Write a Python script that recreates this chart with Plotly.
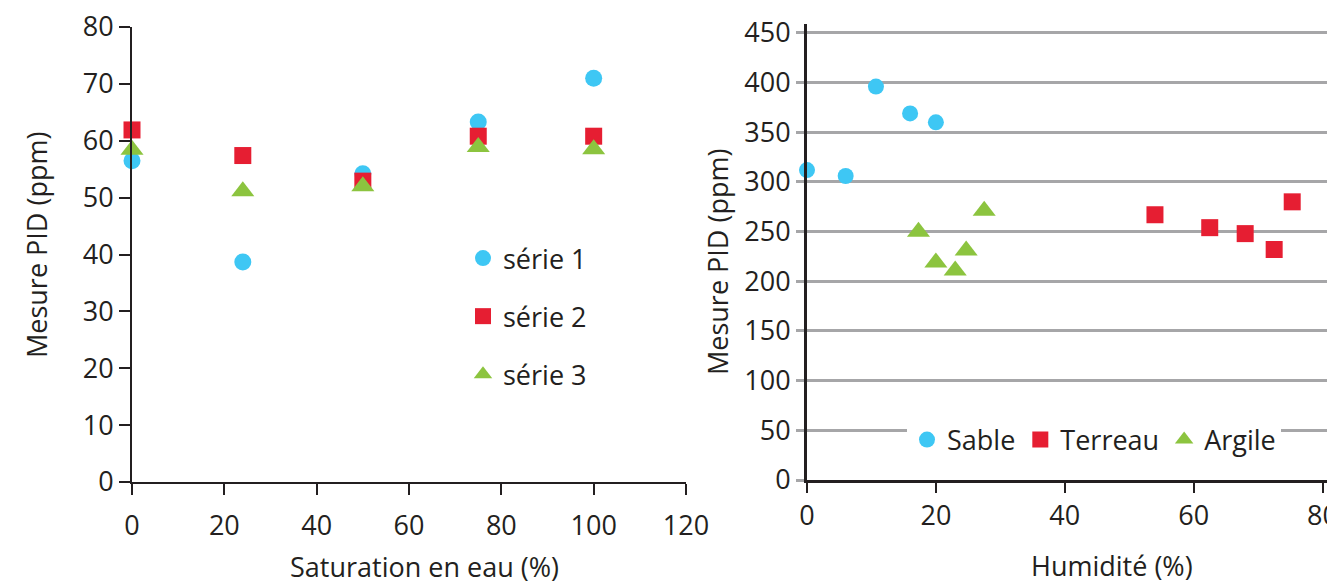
import plotly.graph_objects as go

# ---- left chart data ----
saturation = [0, 24, 50, 75, 100]
serie1 = [56.5, 38.7, 54.2, 63.3, 71.0]
serie2 = [61.9, 57.4, 52.9, 60.8, 60.8]
serie3 = [58.4, 51.1, 52.0, 58.9, 58.5]
left_xticks = [0, 20, 40, 60, 80, 100, 120]
left_yticks = [0, 10, 20, 30, 40, 50, 60, 70, 80]

# ---- right chart data ----
sable_x = [0, 6, 10.7, 16, 20]
sable_y = [312, 306, 396, 369, 360]
terreau_x = [54, 62.5, 68, 72.5, 75.3]
terreau_y = [267, 254, 248, 232, 280]
argile_x = [17.3, 20, 23, 24.7, 27.5]
argile_y = [250, 219, 211, 231, 271]
right_xticks = [0, 20, 40, 60, 80]
right_yticks = [0, 50, 100, 150, 200, 250, 300, 350, 400, 450]

BLUE = "#3ec7f4"
RED = "#e61e32"
GREEN = "#8cc43f"
TXT = "#231f20"
FONT = "Open Sans"
FS = 27
W, H = 1335, 583
OFF = 8  # page body margin


def fx(px):
    return (px - OFF) / W


def fy(py):
    return 1 - (py - OFF) / H


fig = go.Figure()

for name, ys, sym, col, sz in [("série 1", serie1, "circle", BLUE, 17),
                               ("série 2", serie2, "square", RED, 17),
                               ("série 3", serie3, "triangle-up", GREEN, 20)]:
    fig.add_trace(go.Scatter(x=saturation, y=ys, mode="markers", name=name,
                             marker=dict(symbol=sym, color=col, size=sz),
                             xaxis="x", yaxis="y", legend="legend",
                             legendgroup=name, cliponaxis=False))

for name, xs, ys, sym, col, sz in [("Sable", sable_x, sable_y, "circle", BLUE, 16),
                                   ("Terreau", terreau_x, terreau_y, "square", RED, 17),
                                   ("Argile", argile_x, argile_y, "triangle-up", GREEN, 20)]:
    fig.add_trace(go.Scatter(x=xs, y=ys, mode="markers", name=name,
                             marker=dict(symbol=sym, color=col, size=sz),
                             xaxis="x2", yaxis="y2", legend="legend2",
                             cliponaxis=False))

tickfont = dict(family=FONT, size=FS, color=TXT)
right_end = W + OFF  # paper right edge in window pixels
x2_max = (right_end - 807) / ((1322.5 - 807) / 80)

fig.update_layout(
    width=W, height=H,
    margin=dict(l=0, r=0, t=0, b=0, autoexpand=False),
    paper_bgcolor="white", plot_bgcolor="white",
    showlegend=True,
    font=dict(family=FONT, color=TXT),
    xaxis=dict(domain=[fx(132), fx(686)], range=[0, 120], tickvals=left_xticks,
               showgrid=False, zeroline=False, showline=True, linecolor=TXT, linewidth=2,
               ticks="outside", ticklen=11, tickwidth=2, tickcolor=TXT,
               tickfont=tickfont, ticklabelstandoff=8, anchor="y", automargin=False,
               ticklabeloverflow="allow"),
    yaxis=dict(domain=[fy(482), fy(27)], range=[0, 80], tickvals=left_yticks,
               showgrid=False, zeroline=False, showline=True, linecolor=TXT, linewidth=2,
               ticks="outside", ticklen=11, tickwidth=2, tickcolor=TXT,
               tickfont=tickfont, ticklabelstandoff=0, anchor="x", automargin=False,
               ticklabeloverflow="allow"),
    xaxis2=dict(domain=[fx(807), 1.0], range=[0, x2_max], tickvals=right_xticks,
                showgrid=False, zeroline=False, showline=True, linecolor=TXT, linewidth=3,
                ticks="outside", ticklen=10, tickwidth=2, tickcolor=TXT,
                tickfont=tickfont, ticklabelstandoff=0, anchor="y2", automargin=False,
                ticklabeloverflow="allow"),
    yaxis2=dict(domain=[fy(480), fy(24)], range=[0, 459], tickvals=right_yticks,
                showgrid=True, gridcolor="#a6a6a8", gridwidth=2.5,
                zeroline=False, showline=True, linecolor=TXT, linewidth=3,
                ticks="outside", ticklen=8, tickwidth=2.5, tickcolor="#a6a6a8",
                tickfont=tickfont, ticklabelstandoff=0, anchor="x2", automargin=False,
                ticklabeloverflow="allow"),
    legend=dict(x=fx(463), xanchor="left", y=fy(234), yanchor="top",
                orientation="v", tracegroupgap=20, bgcolor="rgba(0,0,0,0)",
                font=dict(family=FONT, size=FS, color=TXT)),
    legend2=dict(x=fx(1094), xanchor="center", y=fy(440), yanchor="middle",
                 orientation="h", bgcolor="white", itemwidth=30,
                 font=dict(family=FONT, size=FS, color=TXT)),
    annotations=[
        dict(text="Saturation en eau (%)", x=fx(424), y=fy(566), xref="paper", yref="paper",
             xanchor="center", yanchor="middle",
             showarrow=False, font=dict(family=FONT, size=FS, color=TXT)),
        dict(text="Mesure PID (ppm)", x=fx(36), y=fy(245), xref="paper", yref="paper",
             xanchor="center", yanchor="middle",
             showarrow=False, textangle=-90, font=dict(family=FONT, size=FS, color=TXT)),
        dict(text="Humidité (%)", x=fx(1112), y=fy(565), xref="paper", yref="paper",
             xanchor="center", yanchor="middle",
             showarrow=False, font=dict(family=FONT, size=FS, color=TXT)),
        dict(text="Mesure PID (ppm)", x=fx(717), y=fy(262), xref="paper", yref="paper",
             xanchor="center", yanchor="middle",
             showarrow=False, textangle=-90, font=dict(family=FONT, size=FS, color=TXT)),
    ],
)

fig.write_html("out.html")
